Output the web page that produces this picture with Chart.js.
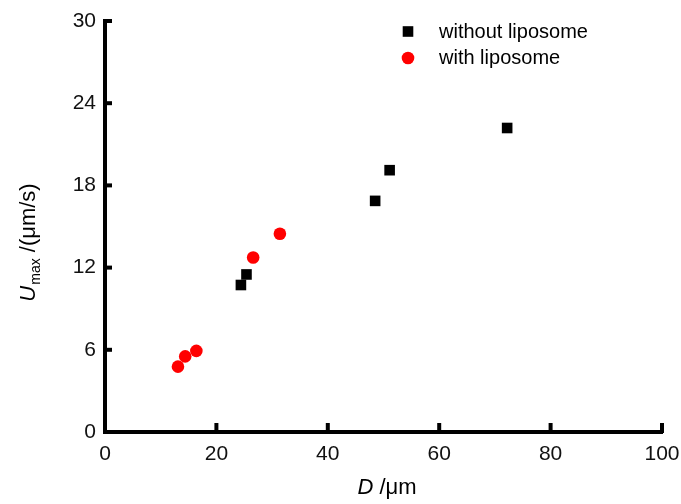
<!DOCTYPE html>
<html>
<head>
<meta charset="utf-8">
<script src="https://cdn.jsdelivr.net/npm/chart.js@4.4.1/dist/chart.umd.min.js"></script>
<style>
html,body{margin:0;padding:0;background:#fff;}
#wrap{width:681px;height:504px;position:relative;}
</style>
</head>
<body>
<div id="wrap"><canvas id="c" width="681" height="504"></canvas></div>
<script>
const seriesNames = ["without liposome", "with liposome"];
const withoutD = [24.4, 25.4, 48.5, 51.1, 72.2];
const withoutU = [10.73, 11.5, 16.87, 19.11, 22.19];
const withD = [13.1, 14.4, 16.4, 26.6, 31.4];
const withU = [4.77, 5.52, 5.92, 12.74, 14.47];
const xTicks = [0, 20, 40, 60, 80, 100];
const yTicks = [0, 6, 12, 18, 24, 30];
const xTitle = ["D", " /\u03bcm"];
const yTitle = ["U", "max", " /(\u03bcm/s)"];

const FONT = '"Liberation Sans", Arial, sans-serif';

const toPts = (xs, ys) => xs.map((x, i) => ({x: x, y: ys[i]}));

const decor = {
  id: 'decor',
  afterDraw(chart) {
    const ctx = chart.ctx;
    const xs = chart.scales.x, ys = chart.scales.y;
    const ca = chart.chartArea;
    ctx.save();
    // inward ticks
    ctx.strokeStyle = '#000';
    ctx.lineWidth = 4;
    ctx.lineCap = 'butt';
    const axY = ca.bottom + 1;
    const axX = ca.left - 2;
    xTicks.forEach(v => {
      if (v === 0) return;
      const px = xs.getPixelForValue(v);
      ctx.beginPath(); ctx.moveTo(px, axY); ctx.lineTo(px, axY - 10); ctx.stroke();
    });
    yTicks.forEach(v => {
      if (v === 0) return;
      const py = ys.getPixelForValue(v);
      ctx.beginPath(); ctx.moveTo(axX, py); ctx.lineTo(axX + 9, py); ctx.stroke();
    });
    // x title
    ctx.fillStyle = '#000';
    ctx.textBaseline = 'alphabetic';
    ctx.textAlign = 'left';
    ctx.font = 'italic 22px ' + FONT;
    const w1 = ctx.measureText(xTitle[0]).width;
    ctx.font = '22px ' + FONT;
    const w2 = ctx.measureText(xTitle[1]).width;
    let sx = 387 - (w1 + w2) / 2;
    ctx.font = 'italic 22px ' + FONT;
    ctx.fillText(xTitle[0], sx, 494);
    ctx.font = '22px ' + FONT;
    ctx.fillText(xTitle[1], sx + w1, 494);
    // y title
    ctx.save();
    ctx.translate(35, 243);
    ctx.rotate(-Math.PI / 2);
    ctx.font = 'italic 22px ' + FONT;
    const u1 = ctx.measureText(yTitle[0]).width;
    ctx.font = '14px ' + FONT;
    const u2 = ctx.measureText(yTitle[1]).width;
    ctx.font = '22px ' + FONT;
    const u3 = ctx.measureText(yTitle[2]).width;
    let ty = -(u1 + u2 + u3) / 2;
    ctx.font = 'italic 22px ' + FONT;
    ctx.fillText(yTitle[0], ty, 0);
    ctx.font = '14px ' + FONT;
    ctx.fillText(yTitle[1], ty + u1 + 1, 5);
    ctx.font = '22px ' + FONT;
    ctx.fillText(yTitle[2], ty + u1 + u2 + 1, 0);
    ctx.restore();
    // legend
    const ds = chart.data.datasets;
    ctx.font = '20px ' + FONT;
    ctx.textBaseline = 'middle';
    ctx.fillStyle = ds[0].backgroundColor;
    ctx.fillRect(408 - 5.3, 31.5 - 5.3, 10.6, 10.6);
    ctx.fillStyle = ds[1].backgroundColor;
    ctx.beginPath(); ctx.arc(408, 58, 6.3, 0, Math.PI * 2); ctx.fill();
    ctx.fillStyle = '#000';
    ctx.fillText(ds[0].label, 439, 32);
    ctx.fillText(ds[1].label, 439, 58);
    ctx.restore();
  }
};

new Chart(document.getElementById('c'), {
  type: 'scatter',
  data: {
    datasets: [
      {label: seriesNames[0], data: toPts(withoutD, withoutU), pointStyle: 'rect',
       pointRadius: 7.5, pointHoverRadius: 7.5, backgroundColor: '#000', borderColor: '#000', borderWidth: 0},
      {label: seriesNames[1], data: toPts(withD, withU), pointStyle: 'circle',
       pointRadius: 6.3, pointHoverRadius: 6.3, backgroundColor: '#ff0000', borderColor: '#ff0000', borderWidth: 0}
    ]
  },
  options: {
    responsive: false,
    animation: false,
    events: [],
    layout: {autoPadding: false, padding: {top: 21, right: 19, left: 0, bottom: 0}},
    plugins: {legend: {display: false}, tooltip: {enabled: false}},
    scales: {
      x: {
        type: 'linear', min: 0, max: 100,
        afterBuildTicks: s => { s.ticks = xTicks.map(v => ({value: v})); },
        afterFit: s => { s.height = 72; s.paddingLeft = 0; s.paddingRight = 0; },
        grid: {display: false, drawTicks: false},
        border: {display: true, color: '#000', width: 4},
        ticks: {color: '#111', padding: 10, font: {size: 21, family: FONT}, maxRotation: 0}
      },
      y: {
        type: 'linear', min: 0, max: 30,
        afterBuildTicks: s => { s.ticks = yTicks.map(v => ({value: v})); },
        afterFit: s => { s.width = 105; s.paddingTop = 0; s.paddingBottom = 0; },
        grid: {display: false, drawTicks: false},
        border: {display: true, color: '#000', width: 4},
        ticks: {color: '#111', padding: 9, font: {size: 21, family: FONT}}
      }
    }
  },
  plugins: [decor]
});
</script>
</body>
</html>
